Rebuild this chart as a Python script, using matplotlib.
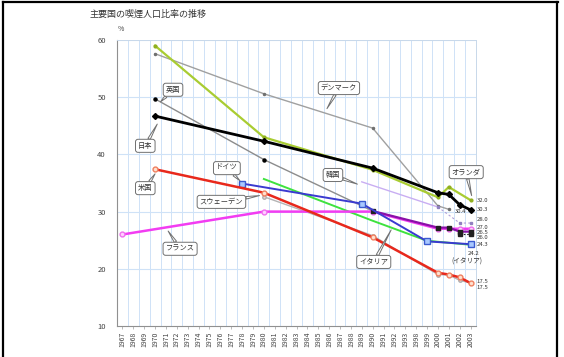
import matplotlib
matplotlib.use("Agg")

import matplotlib.pyplot as plt
from matplotlib.lines import Line2D

plt.rcParams["font.family"] = ["Noto Sans CJK JP", "DejaVu Sans"]

# category axis (years are not evenly spaced after 1993)
year_labels = [str(y) for y in range(1967, 1994)] + ["1998", "1999", "2000", "2001", "2002", "2003"]

japan_years = [1970, 1980, 1990, 2000, 2001, 2002, 2003]
japan_vals = [46.7, 42.3, 37.6, 33.3, 33.0, 31.2, 30.3]

nl_years = [1970, 1980, 1990, 2000, 2001, 2003]
nl_vals = [59.0, 43.0, 37.3, 32.5, 34.3, 32.0]

dk_years = [1970, 1980, 1990, 2000, 2001]
dk_vals = [57.6, 50.6, 44.6, 31.0, 30.4]

uk_years = [1970, 1980, 1990]
uk_vals = [49.7, 39.1, 30.1]
uk2_years = [1990, 2000, 2001, 2002, 2003]
uk2_vals = [30.1, 27.2, 27.2, 26.5, 26.5]
uk3_years = [2002, 2003]
uk3_vals = [26.0, 26.0]

fr_years = [1967, 1980, 1990, 2000, 2001, 2002, 2003]
fr_vals = [26.0, 30.0, 30.0, 27.0, 27.0, 27.0, 27.0]

us_years = [1970, 1980, 1990, 2000, 2001, 2002, 2003]
us_vals = [37.4, 33.3, 25.5, 19.3, 19.0, 18.5, 17.5]

se_years = [1980, 1990, 2000, 2001, 2002, 2003]
se_vals = [32.6, 25.8, 19.0, 18.9, 18.0, 17.5]

de_years = [1978, 1989, 1999, 2003]
de_vals = [34.9, 31.4, 24.8, 24.3]

it_years = [1980, 1990, 1999, 2003]
it_vals = [35.7, 28.4, 24.9, 24.2]

kr_years = [1989, 2000]
kr_vals = [35.2, 30.8]
kr2_years = [2000, 2002, 2003]
kr2_vals = [30.8, 28.0, 28.0]


def pos(years):
    return [year_labels.index(str(y)) for y in years]


fig = plt.figure(figsize=(5.64, 3.57), dpi=100)
ax = fig.add_axes([117 / 564, 1 - 326 / 357, 359 / 564, 286 / 357])

n = len(year_labels)
ax.set_xlim(-0.5, n - 0.5)
ax.set_ylim(10, 60)

grid_c = "#cfe2f7"
for i in range(n):
    ax.axvline(i + 0.5, color=grid_c, lw=0.7, zorder=0)
for v in range(20, 61, 10):
    ax.axhline(v, color=grid_c, lw=0.8, zorder=0)

# lines, back to front
ax.plot(pos(dk_years), dk_vals, color="#a0a0a0", lw=1.0, marker="o", ms=1.5,
        mfc="#707070", mec="#707070", zorder=2)
ax.plot(pos(uk_years), uk_vals, color="#8c8c8c", lw=1.0, marker="o", ms=2.2,
        mfc="black", mec="black", zorder=2)
ax.plot(pos(kr_years), kr_vals, color="#c9aef2", lw=1.0, zorder=2)
ax.plot(pos(kr2_years), kr2_vals, color="#b0a0d8", lw=0.8, ls=(0, (2, 2)),
        marker="s", ms=1.5, mfc="#9080c0", mec="#9080c0", zorder=2)
ax.plot(pos(se_years), se_vals, color="#b4b4b4", lw=1.0, marker="o", ms=2.5,
        mfc="#f0d0d0", mec="#b0b0b0", zorder=2)
ax.plot(pos(it_years), it_vals, color="#3ee23e", lw=1.4, zorder=3)
ax.plot(pos(fr_years), fr_vals, color="#f23cf2", lw=1.8, marker="o", ms=3.5,
        mfc="#ffd0ff", mec="#f070f0", zorder=3)
ax.plot(pos(uk2_years), uk2_vals, color="#8a10a8", lw=1.6, marker="s", ms=2.5,
        mfc="#202020", mec="#202020", zorder=3)
ax.plot(pos(uk3_years), uk3_vals, color="#202020", lw=0.8, ls=(0, (1.5, 1.5)),
        marker="s", ms=2.5, mfc="#202020", mec="#202020", zorder=3)
ax.plot(pos(de_years), de_vals, color="#3a3ad0", lw=1.4, marker="s", ms=4,
        mfc="#a8c8ff", mec="#3a5ad0", zorder=4)
ax.plot(pos(us_years), us_vals, color="#e8281c", lw=1.8, marker="o", ms=3.5,
        mfc="#ffe0d0", mec="#f08060", zorder=4)
ax.plot(pos(nl_years), nl_vals, color="#a9cc32", lw=1.6, marker="o", ms=2,
        mfc="#90b020", mec="#90b020", zorder=4)
ax.plot(pos(japan_years), japan_vals, color="black", lw=2.0, marker="D", ms=3,
        mfc="black", mec="black", zorder=5)

# end-of-line values, nudged apart where lines crowd together
end_labels = [
    (32.55, nl_vals[-1], 0.0, "32.0"),
    (32.55, japan_vals[-1], 0.0, "30.3"),
    (30.6, dk_vals[-1], -0.4, "30.4"),
    (32.55, kr2_vals[-1], 0.6, "28.0"),
    (32.55, fr_vals[-1], 0.3, "27.0"),
    (32.55, uk2_vals[-1], -0.1, "26.5"),
    (32.55, uk3_vals[-1], -0.5, "26.0"),
    (32.55, de_vals[-1], 0.0, "24.3"),
    (31.7, it_vals[-1], -1.6, "24.2"),
    (32.55, us_vals[-1], 0.3, "17.5"),
    (32.55, se_vals[-1], -0.7, "17.5"),
]
for x, y, dy, s in end_labels:
    ax.text(x, y + dy, s, fontsize=4.3, color="#333333", va="center", ha="left",
            clip_on=False, linespacing=1.0)
ax.text(31.7, it_vals[-1] - 3.0, "(イタリア)", fontsize=4.8, color="#333333",
        va="center", ha="center", clip_on=False)

# speech-bubble country labels
callouts = [
    ("英国", (4.65, 51.3), (3.5, 49.2)),
    ("日本", (2.1, 41.5), (3.2, 45.3)),
    ("米国", (2.1, 34.1), (3.0, 36.6)),
    ("ドイツ", (9.6, 37.6), (10.8, 35.4)),
    ("スウェーデン", (9.1, 31.7), (12.6, 32.8)),
    ("フランス", (5.3, 23.5), (4.2, 26.6)),
    ("デンマーク", (19.9, 51.6), (18.8, 48.0)),
    ("韓国", (19.35, 36.4), (21.6, 34.8)),
    ("オランダ", (31.6, 36.9), (32.1, 32.8)),
    ("イタリア", (23.1, 21.2), (24.7, 26.8)),
]
for text, xy_text, xy_tip in callouts:
    ax.annotate(
        text,
        xy=xy_tip,
        xytext=xy_text,
        fontsize=5.2,
        color="#333333",
        ha="center",
        va="center",
        bbox=dict(boxstyle="round,pad=0.35", fc="white", ec="#707070", lw=0.7),
        arrowprops=dict(arrowstyle="wedge,tail_width=0.35", fc="white",
                        ec="#707070", lw=0.7, shrinkA=0, shrinkB=0),
        zorder=8,
    )

ax.set_xticks(range(n))
ax.set_xticklabels(year_labels, rotation=90, fontsize=5, color="#444444")
ax.set_yticks(range(10, 61, 10))
ax.set_yticklabels([str(v) for v in range(10, 61, 10)], fontsize=5.5, color="#444444")
ax.tick_params(axis="x", length=2, width=0.5, color="#a0a0a0", pad=2)
ax.tick_params(axis="y", length=0, pad=8)

for side in ["top", "right"]:
    ax.spines[side].set_color("#c8d8ea")
    ax.spines[side].set_linewidth(0.7)
for side in ["left", "bottom"]:
    ax.spines[side].set_color("#909090")
    ax.spines[side].set_linewidth(0.8)

ax.text(-0.4, 61.2, "%", fontsize=5, color="#444444", ha="left", va="bottom",
        clip_on=False)

fig.text(90 / 564, 1 - 14 / 357, "主要国の喫煙人口比率の推移", fontsize=6.5,
         color="#333333", ha="left", va="center")

# outer frame
for xs, ys in [([0.006, 0.006], [0, 0.995]), ([0.006, 0.989], [0.993, 0.993]),
               ([0.988, 0.988], [0, 0.995])]:
    fig.add_artist(Line2D(xs, ys, color="black", lw=1.6, transform=fig.transFigure))

fig.savefig("out.png", dpi=100)
